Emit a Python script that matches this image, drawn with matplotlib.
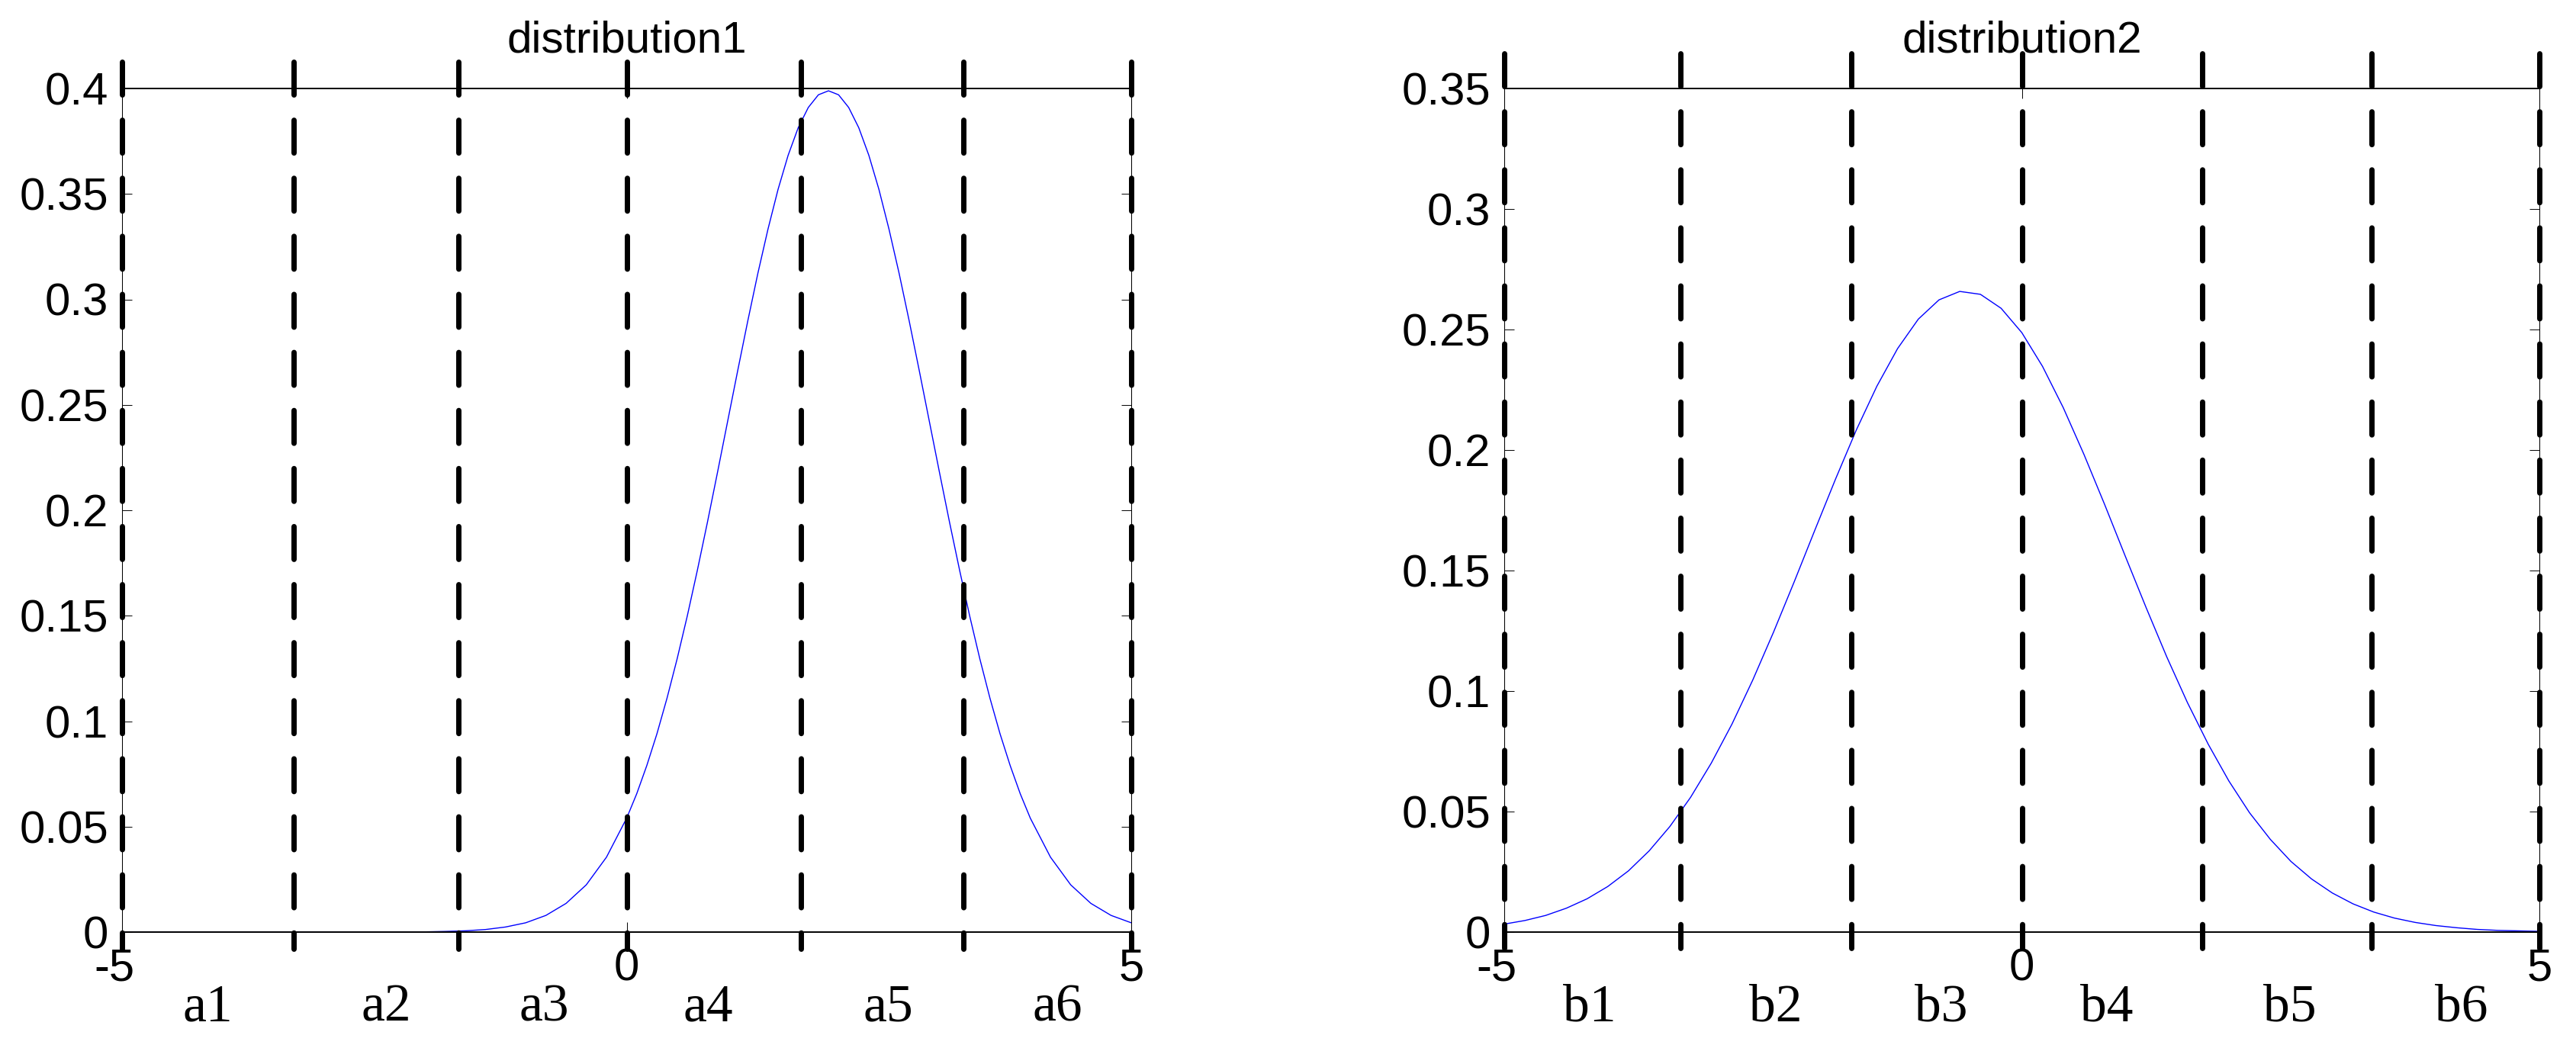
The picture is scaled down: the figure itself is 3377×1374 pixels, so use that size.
import matplotlib
matplotlib.use('Agg')
import matplotlib.pyplot as plt
from matplotlib.transforms import ScaledTranslation, blended_transform_factory

# ---------------- data ----------------
x_dist1 = [-5.0, -4.8, -4.6, -4.4, -4.2, -4.0, -3.8, -3.6, -3.4, -3.2,
           -3.0, -2.8, -2.6, -2.4, -2.2, -2.0, -1.8, -1.6, -1.4, -1.2,
           -1.0, -0.8, -0.6, -0.4, -0.2, 0.0, 0.1, 0.2, 0.3, 0.4, 0.5, 0.6, 0.7, 0.8,
           0.9, 1.0, 1.1, 1.2, 1.3, 1.4, 1.5, 1.6, 1.7, 1.8, 1.9, 2.0,
           2.1, 2.2, 2.3, 2.4, 2.5, 2.6, 2.7, 2.8, 2.9, 3.0, 3.1,
           3.2, 3.3, 3.4, 3.5, 3.6, 3.7, 3.8, 3.9, 4.0, 4.2, 4.4, 4.6, 4.8, 5.0]
y_dist1 = [0.0, 0.0, 0.0, 0.0, 0.0, 0.0, 0.0, 0.0, 0.0, 0.0,
           0.0, 0.0, 0.0, 0.0, 0.0001, 0.0001, 0.0003, 0.0006, 0.0012, 0.0024,
           0.0044, 0.0079, 0.0136, 0.0224, 0.0355, 0.0540, 0.0656, 0.0790, 0.0940, 0.1109,
           0.1295, 0.1497, 0.1714, 0.1942,
           0.2179, 0.2420, 0.2661, 0.2897, 0.3123, 0.3332, 0.3521, 0.3683, 0.3814, 0.3910, 0.3970, 0.3989,
           0.3970, 0.3910, 0.3814, 0.3683, 0.3521, 0.3332, 0.3123, 0.2897, 0.2661, 0.2420, 0.2179,
           0.1942, 0.1714, 0.1497, 0.1295, 0.1109, 0.0940, 0.0790, 0.0656, 0.0540,
           0.0355, 0.0224, 0.0136, 0.0079, 0.0044]

x_dist2 = [-5.0, -4.8, -4.6, -4.4, -4.2, -4.0, -3.8, -3.6, -3.4, -3.2,
           -3.0, -2.8, -2.6, -2.4, -2.2, -2.0, -1.8, -1.6, -1.4, -1.2,
           -1.0, -0.8, -0.6, -0.4, -0.2, 0.0, 0.2, 0.4, 0.6, 0.8,
           1.0, 1.2, 1.4, 1.6, 1.8, 2.0, 2.2, 2.4, 2.6, 2.8,
           3.0, 3.2, 3.4, 3.6, 3.8, 4.0, 4.2, 4.4, 4.6, 4.8, 5.0]
y_dist2 = [0.0033, 0.0048, 0.0069, 0.0099, 0.0138, 0.0189, 0.0254, 0.0337, 0.0438, 0.0559,
           0.0701, 0.0863, 0.1045, 0.1243, 0.1452, 0.1667, 0.1879, 0.2082, 0.2265, 0.2421,
           0.2543, 0.2623, 0.2658, 0.2646, 0.2588, 0.2487, 0.2347, 0.2176, 0.1982, 0.1774,
           0.1559, 0.1347, 0.1142, 0.0952, 0.0780, 0.0627, 0.0495, 0.0385, 0.0293, 0.0220,
           0.0162, 0.0117, 0.0083, 0.0058, 0.0040, 0.0027, 0.0018, 0.0011, 0.0007, 0.0005, 0.0003]

cuts1 = [-5, -3.3, -1.67, 0, 1.73, 3.34, 5]
cuts2 = [-5, -3.3, -1.65, 0, 1.74, 3.38, 5]

interval_labels1 = ['a1', 'a2', 'a3', 'a4', 'a5', 'a6']
interval_labels2 = ['b1', 'b2', 'b3', 'b4', 'b5', 'b6']
interval_x1 = [-4.15, -2.38, -0.82, 0.81, 2.59, 4.27]
interval_x2 = [-4.18, -2.38, -0.78, 0.82, 2.59, 4.25]

titles = ['distribution1', 'distribution2']
xticks = [-5, 0, 5]
xtick_labels = ['-5', '0', '5']
yticks1 = [0, 0.05, 0.1, 0.15, 0.2, 0.25, 0.3, 0.35, 0.4]
ytick_labels1 = ['0', '0.05', '0.1', '0.15', '0.2', '0.25', '0.3', '0.35', '0.4']
yticks2 = [0, 0.05, 0.1, 0.15, 0.2, 0.25, 0.3, 0.35]
ytick_labels2 = ['0', '0.05', '0.1', '0.15', '0.2', '0.25', '0.3', '0.35']
ylims = [0.4, 0.35]

# ---------------- figure ----------------
plt.rcParams['lines.scale_dashes'] = False
plt.rcParams['axes.unicode_minus'] = False
plt.rcParams['font.family'] = ['Liberation Sans', 'DejaVu Sans']

W, H, DPI = 3377, 1374, 100
fig = plt.figure(figsize=(W / DPI, H / DPI), dpi=DPI)

ax_bottom = 1 - 1222 / H
ax_height = 1106 / H
ax1 = fig.add_axes([160 / W, ax_bottom, 1323 / W, ax_height])
ax2 = fig.add_axes([1972 / W, ax_bottom, 1357 / W, ax_height])

panels = [
    (ax1, x_dist1, y_dist1, cuts1, interval_labels1, interval_x1, yticks1, ytick_labels1, 0.4125, -0.0081),
    (ax2, x_dist2, y_dist2, cuts2, interval_labels2, interval_x2, yticks2, ytick_labels2, 0.3644, -0.0065),
]

for i, (ax, xs, ys, cuts, ilabels, ix, yt, ytl, dash_top, dash_bot) in enumerate(panels):
    ax.plot(xs, ys, color='#0000FF', lw=1.0, zorder=2)
    for c in cuts:
        ax.plot([c, c], [dash_top, dash_bot], color='black', lw=5.0,
                dashes=(31, 23.8), dash_capstyle='round', clip_on=False, zorder=4)
    ax.set_xlim(-5, 5)
    ax.set_ylim(0, ylims[i])
    ax.set_xticks(xticks)
    ax.set_xticklabels(xtick_labels)
    ax.set_yticks(yt)
    ax.set_yticklabels(ytl)
    ax.tick_params(direction='in', length=9.4, width=0.7, top=True, right=True,
                   labelsize=43, color='black')
    ax.tick_params(axis='y', pad=13)
    ax.tick_params(axis='x', pad=15)
    for side in ['left', 'right']:
        ax.spines[side].set_linewidth(0.75)
    for side in ['top', 'bottom']:
        ax.spines[side].set_linewidth(1.4)
    ax.set_title(titles[i], fontsize=42, pad=34)
    # "-5": the digit sits on the tick, the hyphen hangs to the left
    lab = ax.xaxis.get_major_ticks()[0].label1
    lab.set_transform(lab.get_transform() + ScaledTranslation(-10 / DPI, 0, fig.dpi_scale_trans))
    trans = blended_transform_factory(ax.transData, ax.transAxes)
    for lx, lt in zip(ix, ilabels):
        ax.text(lx, -0.1049, lt, transform=trans, ha='center', va='baseline',
                fontsize=50, family=['Liberation Serif', 'DejaVu Serif'])

fig.savefig('out.png', dpi=DPI)
